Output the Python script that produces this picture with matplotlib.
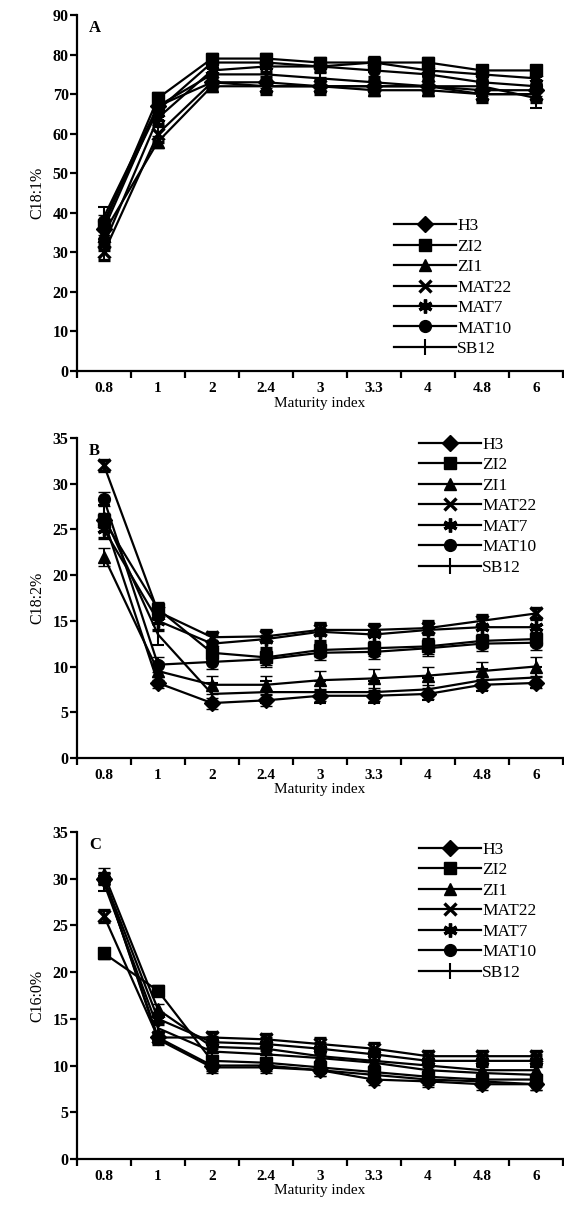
import matplotlib
matplotlib.use("Agg")
import matplotlib.pyplot as plt
from matplotlib.lines import Line2D
import numpy as np

plt.rcParams['font.family'] = ['Liberation Serif', 'DejaVu Serif']

# categories on the x axis (maturity index)
maturite = ["0.8", "1", "2", "2.4", "3", "3.3", "4", "4.8", "6"]
lignees = ["H3", "ZI2", "ZI1", "MAT22", "MAT7", "MAT10", "SB12"]

# panel A : C18:1%
c181_H3 = [36, 67, 73, 73, 72, 72, 72, 71, 71]
c181_ZI2 = [37, 69, 79, 79, 78, 78, 78, 76, 76]
c181_ZI1 = [35, 58, 72, 72, 72, 71, 71, 70, 70]
c181_MAT22 = [30, 60, 73, 72, 72, 72, 72, 70, 70]
c181_MAT7 = [32, 64, 76, 77, 77, 78, 76, 75, 74]
c181_MAT10 = [38, 66, 78, 78, 77, 76, 75, 73, 72]
c181_SB12 = [39, 67, 75, 75, 74, 73, 72, 72, 69]
err_c181 = [1.5, 1.5, 1.5, 2.0, 1.5, 1.5, 2.5]

# panel B : C18:2%
c182_H3 = [26, 8.2, 6.0, 6.3, 6.8, 6.8, 7.0, 8.0, 8.2]
c182_ZI2 = [26, 16.3, 11.5, 11.0, 11.8, 12.0, 12.2, 12.8, 13.0]
c182_ZI1 = [22, 9.5, 8.0, 8.0, 8.5, 8.7, 9.0, 9.5, 10.0]
c182_MAT22 = [32, 16.0, 13.2, 13.3, 14.0, 14.0, 14.2, 15.0, 15.8]
c182_MAT7 = [25, 15.0, 12.5, 13.0, 13.8, 13.5, 14.0, 14.3, 14.3]
c182_MAT10 = [28.3, 10.2, 10.5, 10.8, 11.5, 11.6, 12.0, 12.5, 12.6]
c182_SB12 = [26.5, 13.5, 7.0, 7.2, 7.2, 7.2, 7.5, 8.5, 8.8]
err_c182 = [0.6, 0.8, 1.0, 0.6, 1.0, 0.8, 1.2]

# panel C : C16:0%
c160_H3 = [30, 13.0, 10.0, 10.0, 9.5, 8.5, 8.3, 8.0, 8.0]
c160_ZI2 = [22, 18.0, 10.5, 10.3, 9.8, 9.3, 8.8, 8.5, 8.5]
c160_ZI1 = [30.5, 16.0, 12.0, 11.8, 11.0, 10.5, 10.0, 9.5, 9.5]
c160_MAT22 = [26, 13.0, 13.0, 12.8, 12.3, 11.8, 11.0, 11.0, 11.0]
c160_MAT7 = [30, 15.0, 12.5, 12.3, 11.8, 11.2, 10.5, 10.5, 10.5]
c160_MAT10 = [30, 12.8, 9.8, 9.8, 9.5, 9.0, 8.5, 8.3, 8.0]
c160_SB12 = [29.5, 14.0, 11.5, 11.2, 10.8, 10.3, 9.5, 9.2, 9.0]
err_c160 = [0.6, 0.6, 0.6, 0.6, 0.6, 0.6, 0.8]

marqueurs = ["D", "s", "^", "x", (6, 2, 0), "o", "|"]


def style_marqueur(m):
    """taille et epaisseur du marqueur"""
    if m == "|":
        return 12, 1.5
    if m == "x":
        return 9, 2.4
    if m == (6, 2, 0):
        return 10, 2.4
    if m == "D":
        return 8, 1.0
    return 8.5, 1.0


def trace_panneau(ax, series, erreurs, lettre, ylabel, ymax, pas, leg_pos):
    """trace un panneau avec les 7 lignees"""
    x = np.arange(len(maturite)) + 0.5
    poignees = []
    for i, nom in enumerate(lignees):
        m = marqueurs[i]
        ms, mew = style_marqueur(m)
        ax.errorbar(x, series[i], yerr=erreurs[i], color="black", lw=1.6,
                    marker=m, ms=ms, mew=mew, capsize=4.5, elinewidth=1.4,
                    capthick=1.8)
        poignees.append(Line2D([], [], color="black", lw=1.6, marker=m,
                               ms=ms, mew=mew, label=nom))
    ax.set_xlim(0, len(maturite))
    ax.set_ylim(0, ymax)
    ax.spines["top"].set_visible(False)
    ax.spines["right"].set_visible(False)
    ax.spines["left"].set_linewidth(1.6)
    ax.spines["bottom"].set_linewidth(1.6)
    # ticks at the boundaries, labels at the centres
    ax.set_xticks(np.arange(len(maturite) + 1))
    ax.set_xticklabels([])
    ax.set_xticks(x, minor=True)
    ax.set_xticklabels(maturite, minor=True, fontweight="bold", fontsize=11)
    ax.tick_params(axis="x", which="major", length=5, width=1.6, direction="out")
    ax.tick_params(axis="x", which="minor", length=0, pad=8)
    ax.set_yticks(np.arange(0, ymax + 1, pas))
    ax.tick_params(axis="y", length=5, width=1.6, labelsize=11.5, pad=1)
    for t in ax.get_yticklabels():
        t.set_fontweight("bold")
    ax.set_xlabel("Maturity index", fontsize=11, labelpad=1)
    ax.set_ylabel(ylabel, fontsize=11.5, labelpad=5)
    ax.text(0.025, 0.985, lettre, transform=ax.transAxes, fontweight="bold",
            fontsize=12, va="top", ha="left")
    ax.legend(handles=poignees, loc="upper left", bbox_to_anchor=leg_pos,
              frameon=False, fontsize=12.5, handlelength=3.6,
              handletextpad=0.05, labelspacing=0.25, borderpad=0,
              borderaxespad=0)


fig = plt.figure(figsize=(5.64, 12.05), dpi=100)
axA = fig.add_axes([0.1365, 0.6921, 0.8617, 0.2954])
axB = fig.add_axes([0.1365, 0.3710, 0.8617, 0.2656])
axC = fig.add_axes([0.1365, 0.0382, 0.8617, 0.2714])

trace_panneau(axA, [c181_H3, c181_ZI2, c181_ZI1, c181_MAT22, c181_MAT7, c181_MAT10, c181_SB12],
              err_c181, "A", "C18:1%", 90, 10, (0.652, 0.43))
trace_panneau(axB, [c182_H3, c182_ZI2, c182_ZI1, c182_MAT22, c182_MAT7, c182_MAT10, c182_SB12],
              err_c182, "B", "C18:2%", 35, 5, (0.703, 1.004))
trace_panneau(axC, [c160_H3, c160_ZI2, c160_ZI1, c160_MAT22, c160_MAT7, c160_MAT10, c160_SB12],
              err_c160, "C", "C16:0%", 35, 5, (0.703, 0.970))

fig.savefig("out.png", dpi=100)
